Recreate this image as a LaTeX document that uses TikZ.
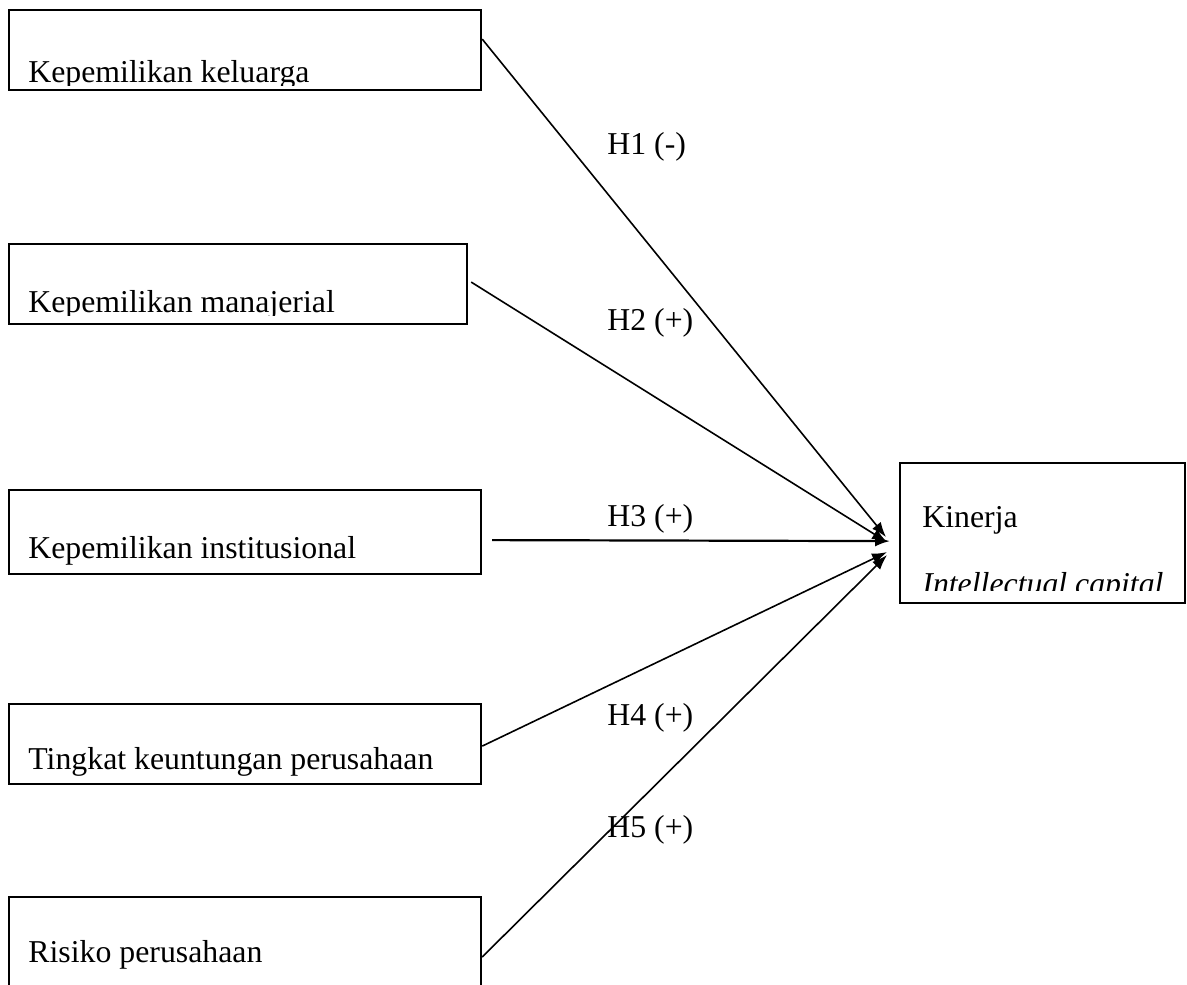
\documentclass[tikz,border=0pt]{standalone}
\usepackage{fontspec}
\setmainfont{Liberation Serif}
\usetikzlibrary{arrows.meta}

\tikzset{
  varbox/.style={draw, line width=1.1pt, inner sep=0pt, anchor=north west},
  lbl/.style={inner sep=0pt, anchor=base west, font=\fontsize{15.9}{19}\selectfont},
  hyp/.style={-{Latex[length=7.5pt,width=5.5pt]}, line width=0.8pt},
}

% text cut off at the bottom, as in a too small text box
\newcommand{\cuttext}[5]{%
  \begin{scope}
    \clip (#2-5,#3-40) rectangle (#2+420,#4);
    \node[lbl] (#1) at (#2,#3) {#5};
  \end{scope}}

\begin{document}
\begin{tikzpicture}[x=0.5pt, y=-0.5pt]

    \clip (0,0) rectangle (1187,984);

    %----- INDEPENDENT VARIABLES -----
    \node[varbox, minimum width=236pt, minimum height=40pt] (kel) at (8,9) {};
    \node[varbox, minimum width=229pt, minimum height=40pt] (man) at (8,243) {};
    \node[varbox, minimum width=236pt, minimum height=42pt] (ins) at (8,489) {};
    \node[varbox, minimum width=236pt, minimum height=40pt] (keu) at (8,703) {};
    \node[varbox, minimum width=236pt, minimum height=60pt] (ris) at (8,896) {};

    \cuttext{tkel}{28}{83}{86}{Kepemilikan keluarga}
    \cuttext{tman}{28}{312}{315}{Kepemilikan manajerial}
    \node[lbl] (tins) at (28,558) {Kepemilikan institusional};
    \node[lbl] (tkeu) at (28,769) {Tingkat keuntungan perusahaan};
    \node[lbl] (tris) at (28,962) {Risiko perusahaan};

    %----- DEPENDENT VARIABLE -----
    \node[varbox, minimum width=142.5pt, minimum height=70pt] (kin) at (899,462) {};
    \node[lbl] (tkin) at (922,527) {Kinerja};
    \cuttext{tic}{922}{594}{590}{\itshape Intellectual capital}

    %----- HYPOTHESES -----
    \draw[hyp] ([yshift=5.5pt]kel.east) -- ([xshift=-6.5pt, yshift=-2pt]kin.west);
    \draw[hyp] ([xshift=1.5pt, yshift=1pt]man.east) -- ([xshift=-6pt, yshift=-4.5pt]kin.west);
    \draw[hyp, line width=1.1pt] ([xshift=5pt, yshift=-4pt]ins.east) -- ([xshift=-4.5pt, yshift=-4pt]kin.west);
    \draw[hyp] ([yshift=-1pt]keu.east) -- ([xshift=-6pt, yshift=-9.5pt]kin.west);
    \draw[hyp] ([yshift=-30.5pt]ris.north east) -- ([xshift=-6pt, yshift=-11pt]kin.west);

    \node[lbl] (h1) at (607,155) {H1 (-)};
    \node[lbl] (h2) at (607,330) {H2 (+)};
    \node[lbl] (h3) at (607,526) {H3 (+)};
    \node[lbl] (h4) at (607,725) {H4 (+)};
    \node[lbl] (h5) at (607,837) {H5 (+)};

\end{tikzpicture}
\end{document}
